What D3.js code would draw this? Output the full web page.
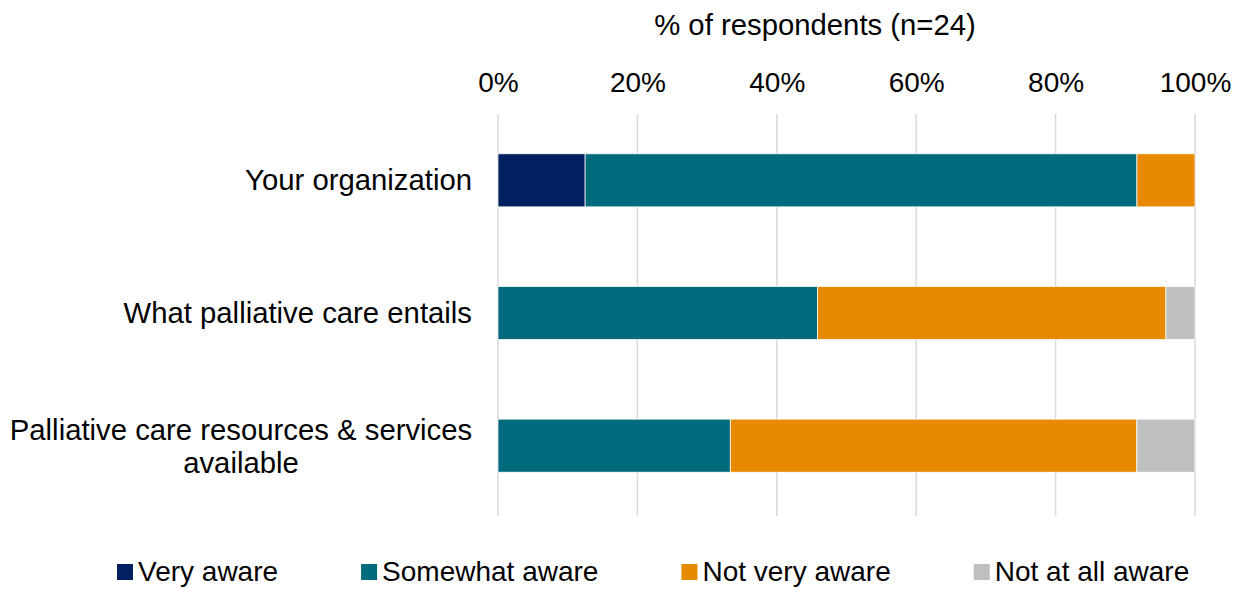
<!DOCTYPE html>
<html><head><meta charset="utf-8">
<script src="https://cdn.jsdelivr.net/npm/d3@7"></script>
<style>body{margin:0;background:#fff;} text{font-family:"Liberation Sans",Arial,sans-serif;fill:#000;}</style>
</head><body><svg id="c" width="1241" height="589"></svg>
<script>
const categories = ["Your organization", "What palliative care entails", "Palliative care resources & services available"];
const series = ["Very aware", "Somewhat aware", "Not very aware", "Not at all aware"];
const veryAware = [12.5, 0, 0];
const somewhatAware = [79.17, 45.83, 33.33];
const notVeryAware = [8.33, 50.0, 58.33];
const notAtAllAware = [0, 4.17, 8.33];
const tickValues = [0, 20, 40, 60, 80, 100];
const colors = ["#002060", "#006B7D", "#E88A00", "#BFBFBF"];
const axisTitle = "% of respondents (n=24)";

const FS = "28px", FSL = "29.3px";
const svg = d3.select("#c");
const m = {left: 498, right: 46, top: 114, bottom: 77};
const W = 1241, H = 589;
const x = d3.scaleLinear().domain([0, 100]).range([m.left, W - m.right]);
const y = d3.scaleBand().domain(categories).range([m.top, H - m.bottom]).paddingInner(0.6).paddingOuter(0.3);

const table = categories.map((c, i) => ({cat: c, "Very aware": veryAware[i], "Somewhat aware": somewhatAware[i], "Not very aware": notVeryAware[i], "Not at all aware": notAtAllAware[i]}));
const stacked = d3.stack().keys(series)(table);

// gridlines
svg.append("g").selectAll("line").data(tickValues).join("line")
  .attr("x1", d => x(d)).attr("x2", d => x(d))
  .attr("y1", m.top).attr("y2", H - m.bottom + 4)
  .attr("stroke", "#d9d9d9").attr("stroke-width", 1.5);

// axis
const ax = svg.append("g").attr("transform", `translate(0,${m.top - 22})`)
  .call(d3.axisTop(x).tickValues(tickValues).tickFormat(d => d + "%").tickSize(0).tickPadding(0));
ax.select(".domain").remove();
ax.selectAll("text").style("font-size", FS).style("font-family", "'Liberation Sans',Arial,sans-serif").attr("fill", "#000");

svg.append("text").attr("x", 815).attr("y", 35).attr("text-anchor", "middle").style("font-size", FSL).text(axisTitle);

// bars
svg.append("g").selectAll("g").data(stacked).join("g")
  .attr("fill", (d, i) => colors[i])
  .selectAll("rect").data(d => d).join("rect")
  .attr("x", d => x(d[0])).attr("width", d => x(d[1]) - x(d[0]))
  .attr("y", d => y(d.data.cat)).attr("height", y.bandwidth())
  .attr("stroke", "#fff").attr("stroke-width", 0.75)
  .attr("display", d => d[1] - d[0] > 0 ? null : "none");

// category labels
const lab = svg.append("g").selectAll("text").data(categories).join("text")
  .attr("text-anchor", "end").style("font-size", FSL);
lab.each(function(d) {
  const t = d3.select(this);
  const cx = y(d) + y.bandwidth() / 2;
  if (d.length > 40) {
    const lines = ["Palliative care resources & services", "available"];
    t.attr("text-anchor", "middle");
    lines.forEach((l, i) => t.append("tspan").attr("x", 241).attr("y", cx - 6 + i * 33).text(l));
  } else {
    t.attr("x", 472).attr("y", cx + 10).text(d);
  }
});

// legend
const lg = svg.append("g");
let lx = 117;
series.forEach((s, i) => {
  lg.append("rect").attr("x", lx).attr("y", 564).attr("width", 16).attr("height", 16).attr("fill", colors[i]);
  const t = lg.append("text").attr("x", lx + 21).attr("y", 581).style("font-size", FS).text(s);
  lx += 21 + t.node().getComputedTextLength() + 83;
});
</script></body></html>
